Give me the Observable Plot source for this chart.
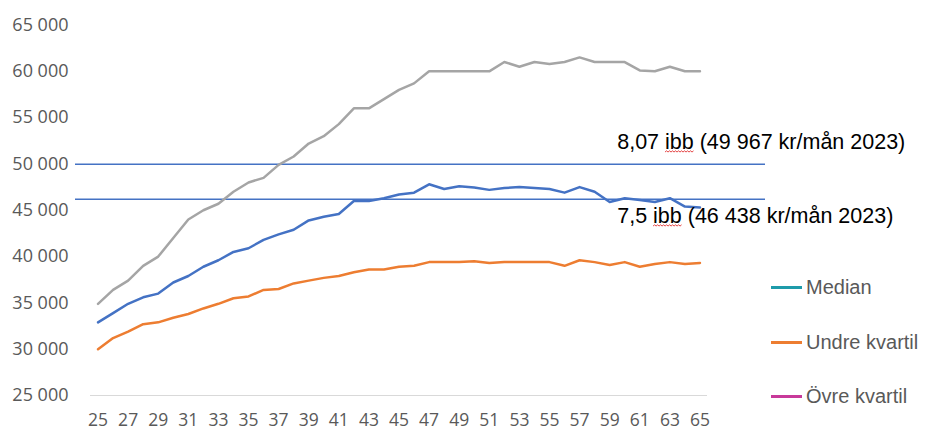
<!DOCTYPE html>
<html><head><meta charset="utf-8">
<script src="https://cdn.jsdelivr.net/npm/d3@7"></script>
<script src="https://cdn.jsdelivr.net/npm/@observablehq/plot@0.6"></script>
<style>
body{margin:0;background:#fff;}
#wrap{position:relative;width:928px;height:430px;}
#legend{position:absolute;left:771px;top:0;font-family:"Liberation Sans",Arial,sans-serif;font-size:20px;color:#595959;}
.item{position:absolute;left:0;display:flex;align-items:center;white-space:nowrap;height:24px;line-height:24px;}
.sw{width:31px;height:3px;margin-right:4px;}
</style></head><body><div id="wrap"></div>
<script>
const ages = [25,26,27,28,29,30,31,32,33,34,35,36,37,38,39,40,41,42,43,44,45,46,47,48,49,50,51,52,53,54,55,56,57,58,59,60,61,62,63,64,65];
const median = [32900,33900,34900,35600,36000,37200,37900,38900,39600,40500,40900,41800,42400,42900,43900,44300,44600,46000,46000,46300,46700,46900,47800,47300,47600,47450,47200,47400,47500,47400,47300,46900,47500,47000,45900,46300,46100,45900,46300,45400,45300];
const lower = [30000,31200,31900,32700,32900,33400,33800,34400,34900,35500,35700,36400,36500,37100,37400,37700,37900,38300,38600,38600,38900,39000,39400,39400,39400,39500,39300,39400,39400,39400,39400,39000,39600,39400,39100,39400,38900,39200,39400,39200,39300];
const upper = [34900,36400,37400,39000,40000,42000,44000,45000,45700,47000,48000,48500,49900,50800,52200,53000,54300,56000,56000,57000,58000,58700,60000,60000,60000,60000,60000,61000,60500,61000,60800,61000,61500,61000,61000,61000,60100,60000,60500,60000,60000];
const refValues = [49967, 46200];
const refLabels = ["8,07 ibb (49 967 kr/mån 2023)", "7,5 ibb (46 438 kr/mån 2023)"];
const yTicks = [25000,30000,35000,40000,45000,50000,55000,60000,65000];
const xTicks = [25,27,29,31,33,35,37,39,41,43,45,47,49,51,53,55,57,59,61,63,65];
const legendNames = ["Median","Undre kvartil","Övre kvartil"];
const legendColors = ["#1E9BAA","#ED7D31","#C8399A"];

const rows = ages.map((a,i)=>({age:a, median:median[i], lower:lower[i], upper:upper[i]}));
const fmt = d => d3.format(",")(d).replace(/,/g, " ");

const chart = Plot.plot({
  width:928, height:430, marginLeft:75, marginRight:163, marginTop:24, marginBottom:35,
  x:{domain:[24.5,65.5], range:[90,707]},
  y:{domain:[25000,65000], range:[395,24.5]},
  style:{fontFamily:"'Open Sans',sans-serif", fontSize:"18px", color:"#595959", background:"#fff"},
  marks:[
    Plot.axisY({ticks:yTicks, tickSize:0, tickPadding:7, tickFormat:fmt, fill:"#595959", fontSize:18, label:null}),
    Plot.axisX({ticks:xTicks, tickSize:0, tickPadding:18, tickFormat:d=>String(d), fill:"#595959", fontSize:17.5, label:null}),
    Plot.ruleY([25000], {x1:24.5, x2:65.5, stroke:"#D9D9D9", strokeWidth:1}),
    Plot.ruleY(refValues, {stroke:"#4472C4", strokeWidth:1.5}),
    Plot.lineY(rows, {x:"age", y:"upper", stroke:"#A5A5A5", strokeWidth:2.5}),
    Plot.lineY(rows, {x:"age", y:"lower", stroke:"#ED7D31", strokeWidth:2.5}),
    Plot.lineY(rows, {x:"age", y:"median", stroke:"#4472C4", strokeWidth:2.5}),
    Plot.text([refLabels[0]], {x:59.5, y:[refValues[0]], text:d=>d, dy:-22.4, textAnchor:"start", fontFamily:"'Liberation Sans',Arial,sans-serif", fontSize:21.5, fill:"#000"}),
    Plot.text([refLabels[1]], {x:59.5, y:[refValues[1]], text:d=>d, dy:16.7, textAnchor:"start", fontFamily:"'Liberation Sans',Arial,sans-serif", fontSize:21.5, fill:"#000"})
  ]
});

const wrap = document.getElementById("wrap");
wrap.appendChild(chart);

// red wavy spell-check underline under "ibb"
const ns = "http://www.w3.org/2000/svg";
chart.querySelectorAll("text").forEach(t=>{
  const s = t.textContent;
  const i = s.indexOf(" ibb ");
  if (i < 0) return;
  try {
    const a = t.getExtentOfChar(i+1), b = t.getExtentOfChar(i+3);
    const x0 = a.x, x1 = b.x + b.width;
    const yb = a.y + a.height * 0.93;
    let d = `M${x0},${yb}`;
    let up = true;
    for (let x = x0 + 1.5; x <= x1 + 0.01; x += 1.5) { d += `L${x},${up ? yb - 1.2 : yb}`; up = !up; }
    const p = document.createElementNS(ns, "path");
    p.setAttribute("d", d);
    p.setAttribute("fill", "none");
    p.setAttribute("stroke", "#E03030");
    p.setAttribute("stroke-width", "0.9");
    const tr = t.getAttribute("transform");
    if (tr) p.setAttribute("transform", tr);
    t.parentNode.appendChild(p);
  } catch (e) {}
});

const legend = document.createElement("div");
legend.id = "legend";
const centers = [287, 342, 396];
legendNames.forEach((n,i)=>{
  const it = document.createElement("div");
  it.className = "item";
  it.style.top = (centers[i]-12)+"px";
  it.innerHTML = `<span class="sw" style="background:${legendColors[i]}"></span><span>${n}</span>`;
  legend.appendChild(it);
});
wrap.appendChild(legend);
</script>
</body></html>
